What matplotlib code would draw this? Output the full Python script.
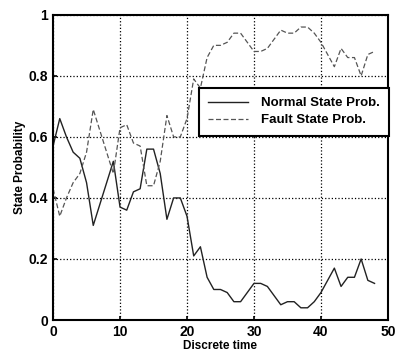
import matplotlib
matplotlib.use("Agg")
import matplotlib.pyplot as plt

# -------------------------
# Data
# -------------------------

t = list(range(49))
normal_prob = [0.57, 0.66, 0.60, 0.55, 0.53, 0.45, 0.31, 0.38, 0.45, 0.52,
               0.37, 0.36, 0.42, 0.43, 0.56, 0.56, 0.48, 0.33, 0.40, 0.40,
               0.34, 0.21, 0.24, 0.14, 0.10, 0.10, 0.09, 0.06, 0.06, 0.09,
               0.12, 0.12, 0.11, 0.08, 0.05, 0.06, 0.06, 0.04, 0.04, 0.06,
               0.09, 0.13, 0.17, 0.11, 0.14, 0.14, 0.20, 0.13, 0.12]
fault_prob = [0.43, 0.34, 0.40, 0.45, 0.48, 0.55, 0.69, 0.62, 0.55, 0.48,
              0.63, 0.64, 0.58, 0.57, 0.44, 0.44, 0.52, 0.67, 0.60, 0.60,
              0.66, 0.79, 0.76, 0.86, 0.90, 0.90, 0.91, 0.94, 0.94, 0.91,
              0.88, 0.88, 0.89, 0.92, 0.95, 0.94, 0.94, 0.96, 0.96, 0.94,
              0.91, 0.87, 0.83, 0.89, 0.86, 0.86, 0.80, 0.87, 0.88]

xticks = [0, 10, 20, 30, 40, 50]
yticks = [0, 0.2, 0.4, 0.6, 0.8, 1]
ytick_labels = ["0", "0.2", "0.4", "0.6", "0.8", "1"]

# -------------------------
# Plot
# -------------------------

plt.rcParams["font.family"] = ["Liberation Sans", "DejaVu Sans"]
plt.rcParams["font.weight"] = "bold"

fig = plt.figure(figsize=(4.02, 3.62), dpi=100)
ax = fig.add_axes([0.132, 0.116, 0.833, 0.843])

ax.plot(t, normal_prob, color="#222222", lw=1.0, label="Normal State Prob.")
ax.plot(t, fault_prob, color="#555555", lw=0.9, ls=(0, (4, 2)),
        label="Fault State Prob.")

ax.set_xlim(0, 50)
ax.set_ylim(0, 1)
ax.set_xticks(xticks)
ax.set_yticks(yticks)
ax.set_yticklabels(ytick_labels)
ax.tick_params(direction="in", labelsize=10, length=3, width=1.2)
ax.grid(True, color="black", ls=":", lw=0.9)
for s in ax.spines.values():
    s.set_linewidth(1.5)

ax.set_xlabel("Discrete time", fontsize=8.5, fontweight="bold", labelpad=1)
ax.set_ylabel("State Probability", fontsize=8.5, fontweight="bold", labelpad=2)

leg = ax.legend(loc="upper right", bbox_to_anchor=(0.968, 0.757),
                bbox_transform=fig.transFigure, borderaxespad=0,
                fontsize=9.5, frameon=True, fancybox=False, framealpha=1,
                borderpad=0.7, handlelength=3.0, handletextpad=1.0,
                labelspacing=0.35)
leg.get_frame().set_edgecolor("black")
leg.get_frame().set_linewidth(1.5)

fig.savefig("out.png", dpi=100)
